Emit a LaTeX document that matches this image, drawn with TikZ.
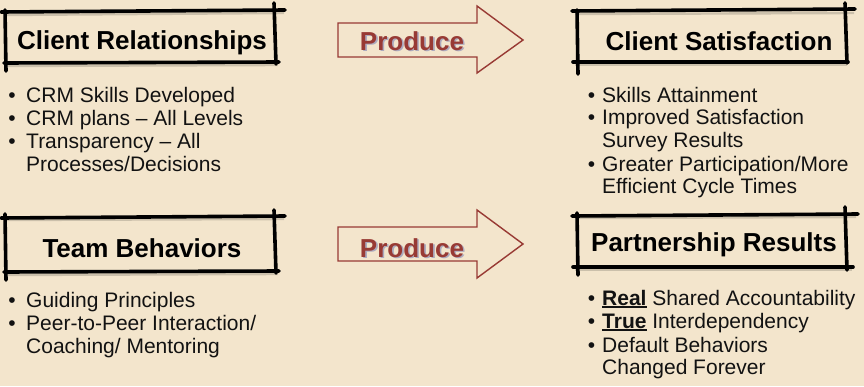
\documentclass[tikz,border=0pt]{standalone}
\usepackage{fontspec}
\setmainfont{Liberation Sans}
\definecolor{paper}{RGB}{243,229,204}
\definecolor{producered}{RGB}{152,58,52}
\definecolor{prodshadow}{RGB}{172,170,190}
\definecolor{ink}{RGB}{18,18,18}
% bold word with a heavy underline
\newcommand\ulword[1]{\setbox0\hbox{\bfseries #1}\rlap{\rule[-3.2pt]{\wd0}{2.2pt}}\box0\relax}

\tikzset{
  sketch/.style={line width=3.6pt, line cap=round, draw=black},
  sketchshade/.style={line width=2.4pt, draw=black, opacity=0.16},
  heading/.style={font=\fontsize{26}{30}\selectfont\bfseries, text=black, inner sep=0pt, anchor=base},
  item/.style={font=\fontsize{21}{23}\selectfont, text=ink, inner sep=0pt, anchor=base west},
  dot/.style={font=\fontsize{21}{23}\selectfont, text=ink, inner sep=0pt, anchor=base},
  arrowshape/.style={draw=producered, line width=1.4pt, line join=miter},
  producetext/.style={font=\fontsize{26}{30}\selectfont\bfseries, text=producered, inner sep=0pt, anchor=base},
  produceshadow/.style={font=\fontsize{26}{30}\selectfont\bfseries, text=prodshadow, inner sep=0pt, anchor=base},
}

\begin{document}
\begin{tikzpicture}[x=1pt,y=-1pt]
  \fill[paper] (0,0) rectangle (864,386);
  \useasboundingbox (0,0) rectangle (864,386);

  % ---- hand-drawn frame: Client Relationships
  \draw[sketchshade] (4,15) -- (284,13);
  \draw[sketchshade] (6,66) -- (278,65);
  \draw[sketch] (1,12) -- (285,10);
  \draw[sketch] (5,10) -- (6,71);
  \draw[sketch] (274,3) -- (276,64);
  \draw[sketch] (4,63) -- (279,62);
  \node[heading] (cr) at (142,49) {Client Relationships};

  % ---- hand-drawn frame: Client Satisfaction
  \draw[sketchshade] (575,14) -- (854,13);
  \draw[sketchshade] (575,65) -- (847,65);
  \draw[sketch] (572,11) -- (855,9);
  \draw[sketch] (577,10) -- (578,74);
  \draw[sketch] (845,3) -- (847,63);
  \draw[sketch] (573,62) -- (848,62);
  \node[heading] (cs) at (719,50) {Client Satisfaction};

  % ---- hand-drawn frame: Team Behaviors
  \draw[sketchshade] (4,220) -- (284,219);
  \draw[sketchshade] (6,275) -- (278,274);
  \draw[sketch] (1,218) -- (285,216);
  \draw[sketch] (5,214) -- (6,280);
  \draw[sketch] (274,210) -- (276,273);
  \draw[sketch] (4,272) -- (279,271);
  \node[heading] (tb) at (142,257) {Team Behaviors};

  % ---- hand-drawn frame: Partnership Results
  \draw[sketchshade] (575,218) -- (856,217);
  \draw[sketchshade] (575,270) -- (852,270);
  \draw[sketch] (572,216) -- (858,214);
  \draw[sketch] (577,213) -- (578,275);
  \draw[sketch] (845,207) -- (847,270);
  \draw[sketch] (573,267) -- (853,267);
  \node[heading] (pr) at (714,251) {Partnership Results};

  % ---- outlined block arrows
  \draw[arrowshape] (338,23) -- (477,23) -- (477,6) -- (523,40) -- (477,73) -- (477,57) -- (338,57) -- cycle;
  \node[produceshadow] at (413.6,51.6) {Produce};
  \node[producetext] (p1) at (412,50) {Produce};

  \draw[arrowshape] (338,227) -- (477,227) -- (477,210) -- (523,244) -- (477,278) -- (477,261) -- (338,261) -- cycle;
  \node[produceshadow] at (413.6,258.6) {Produce};
  \node[producetext] (p2) at (412,257) {Produce};

  % ---- bullet lists
  \node[dot] (a1b) at (12,102) {\textbullet};
  \node[item] (a1) at (26,102) {CRM Skills Developed};
  \node[dot] (a2b) at (12,125) {\textbullet};
  \node[item] (a2) at (26,125) {CRM plans -- All Levels};
  \node[dot] (a3b) at (12,148) {\textbullet};
  \node[item] (a3) at (26,148) {Transparency -- All};
  \node[item] (a4) at (26,171) {Processes/Decisions};

  \node[dot] (b1b) at (591.5,102) {\textbullet};
  \node[item] (b1) at (602,102) {Skills Attainment};
  \node[dot] (b2b) at (591.5,124) {\textbullet};
  \node[item] (b2) at (602,124) {Improved Satisfaction};
  \node[item] (b3) at (602,147) {Survey Results};
  \node[dot] (b4b) at (591.5,171) {\textbullet};
  \node[item] (b4) at (602,171) {Greater Participation/More};
  \node[item] (b5) at (602,193) {Efficient Cycle Times};

  \node[dot] (c1b) at (12,307) {\textbullet};
  \node[item] (c1) at (26,307) {Guiding Principles};
  \node[dot] (c2b) at (12,330) {\textbullet};
  \node[item] (c2) at (26,330) {Peer-to-Peer Interaction/};
  \node[item] (c3) at (26,353) {Coaching/ Mentoring};

  \node[dot] (d1b) at (591.5,305) {\textbullet};
  \node[item] (d1) at (602,305) {\ulword{Real} Shared Accountability};
  \node[dot] (d2b) at (591.5,328) {\textbullet};
  \node[item] (d2) at (602,328) {\ulword{True} Interdependency};
  \node[dot] (d3b) at (591.5,352) {\textbullet};
  \node[item] (d3) at (602,352) {Default Behaviors};
  \node[item] (d4) at (602,374) {Changed Forever};
\end{tikzpicture}
\end{document}
